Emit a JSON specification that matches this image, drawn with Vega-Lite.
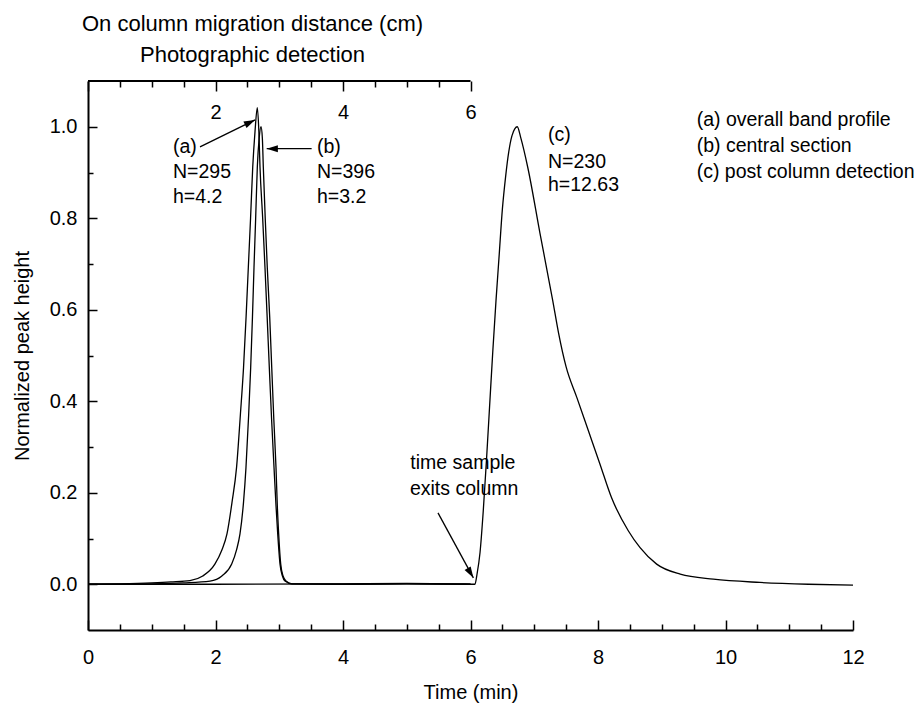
{
  "$schema": "https://vega.github.io/schema/vega-lite/v6.json",
  "width": 765,
  "height": 549,
  "autosize": "none",
  "padding": {"left": 88, "top": 81, "right": 63, "bottom": 74},
  "background": "white",
  "config": {
    "font": "Liberation Sans",
    "view": {"stroke": null},
    "axis": {
      "domainColor": "black", "tickColor": "black", "labelColor": "black", "titleColor": "black",
      "labelFont": "Liberation Sans", "titleFont": "Liberation Sans", "titleFontWeight": "normal",
      "grid": false, "labelFontSize": 20, "titleFontSize": 20, "domainWidth": 2, "tickWidth": 1.5,
      "labelOverlap": false, "labelFlush": false, "labelBound": false
    }
  },
  "datasets": {
    "curves": [
      {"curve": "a", "time": 0, "value": 0}, {"curve": "a", "time": 0.5, "value": 0.001}, {"curve": "a", "time": 1.0, "value": 0.003},
      {"curve": "a", "time": 1.3, "value": 0.005}, {"curve": "a", "time": 1.6, "value": 0.008}, {"curve": "a", "time": 1.8, "value": 0.018},
      {"curve": "a", "time": 1.99, "value": 0.044}, {"curve": "a", "time": 2.1, "value": 0.075}, {"curve": "a", "time": 2.18, "value": 0.11},
      {"curve": "a", "time": 2.26, "value": 0.18}, {"curve": "a", "time": 2.33, "value": 0.255}, {"curve": "a", "time": 2.39, "value": 0.37},
      {"curve": "a", "time": 2.44, "value": 0.474}, {"curve": "a", "time": 2.48, "value": 0.585}, {"curve": "a", "time": 2.515, "value": 0.693},
      {"curve": "a", "time": 2.55, "value": 0.8}, {"curve": "a", "time": 2.584, "value": 0.912}, {"curve": "a", "time": 2.62, "value": 0.99},
      {"curve": "a", "time": 2.656, "value": 1.042}, {"curve": "a", "time": 2.68, "value": 0.99}, {"curve": "a", "time": 2.698, "value": 0.912},
      {"curve": "a", "time": 2.74, "value": 0.8}, {"curve": "a", "time": 2.776, "value": 0.693}, {"curve": "a", "time": 2.81, "value": 0.585},
      {"curve": "a", "time": 2.844, "value": 0.474}, {"curve": "a", "time": 2.88, "value": 0.36}, {"curve": "a", "time": 2.918, "value": 0.255},
      {"curve": "a", "time": 2.95, "value": 0.17}, {"curve": "a", "time": 2.976, "value": 0.11}, {"curve": "a", "time": 3.012, "value": 0.044},
      {"curve": "a", "time": 3.05, "value": 0.018}, {"curve": "a", "time": 3.09, "value": 0.007}, {"curve": "a", "time": 3.2, "value": 0.001},
      {"curve": "a", "time": 4.0, "value": 0.0}, {"curve": "a", "time": 5.0, "value": 0.001}, {"curve": "a", "time": 6.0, "value": 0.0},

      {"curve": "b", "time": 0, "value": 0}, {"curve": "b", "time": 1.0, "value": 0.001}, {"curve": "b", "time": 1.5, "value": 0.003},
      {"curve": "b", "time": 1.914, "value": 0.007}, {"curve": "b", "time": 2.1, "value": 0.018}, {"curve": "b", "time": 2.254, "value": 0.044},
      {"curve": "b", "time": 2.33, "value": 0.075}, {"curve": "b", "time": 2.384, "value": 0.11}, {"curve": "b", "time": 2.44, "value": 0.18},
      {"curve": "b", "time": 2.478, "value": 0.255}, {"curve": "b", "time": 2.52, "value": 0.37}, {"curve": "b", "time": 2.552, "value": 0.474},
      {"curve": "b", "time": 2.58, "value": 0.585}, {"curve": "b", "time": 2.604, "value": 0.693}, {"curve": "b", "time": 2.63, "value": 0.8},
      {"curve": "b", "time": 2.656, "value": 0.912}, {"curve": "b", "time": 2.685, "value": 0.975}, {"curve": "b", "time": 2.714, "value": 1.0},
      {"curve": "b", "time": 2.735, "value": 0.975}, {"curve": "b", "time": 2.75, "value": 0.912}, {"curve": "b", "time": 2.78, "value": 0.8},
      {"curve": "b", "time": 2.812, "value": 0.693}, {"curve": "b", "time": 2.85, "value": 0.585}, {"curve": "b", "time": 2.882, "value": 0.474},
      {"curve": "b", "time": 2.915, "value": 0.36}, {"curve": "b", "time": 2.949, "value": 0.255}, {"curve": "b", "time": 2.97, "value": 0.17},
      {"curve": "b", "time": 2.991, "value": 0.11}, {"curve": "b", "time": 3.023, "value": 0.044}, {"curve": "b", "time": 3.06, "value": 0.018},
      {"curve": "b", "time": 3.106, "value": 0.007}, {"curve": "b", "time": 3.2, "value": 0.001}, {"curve": "b", "time": 4.0, "value": 0.0},
      {"curve": "b", "time": 5.0, "value": 0.001}, {"curve": "b", "time": 6.0, "value": 0.0},

      {"curve": "c", "time": 0, "value": 0}, {"curve": "c", "time": 2.0, "value": 0.0}, {"curve": "c", "time": 4.0, "value": 0.001},
      {"curve": "c", "time": 5.0, "value": 0.002}, {"curve": "c", "time": 5.8, "value": 0.001}, {"curve": "c", "time": 6.07, "value": 0.0},
      {"curve": "c", "time": 6.1, "value": 0.02}, {"curve": "c", "time": 6.15, "value": 0.07}, {"curve": "c", "time": 6.2, "value": 0.16},
      {"curve": "c", "time": 6.25, "value": 0.27}, {"curve": "c", "time": 6.3, "value": 0.39}, {"curve": "c", "time": 6.35, "value": 0.51},
      {"curve": "c", "time": 6.4, "value": 0.62}, {"curve": "c", "time": 6.45, "value": 0.72}, {"curve": "c", "time": 6.5, "value": 0.82},
      {"curve": "c", "time": 6.55, "value": 0.89}, {"curve": "c", "time": 6.6, "value": 0.945}, {"curve": "c", "time": 6.65, "value": 0.98},
      {"curve": "c", "time": 6.734, "value": 1.0}, {"curve": "c", "time": 6.79, "value": 0.975},
      {"curve": "c", "time": 6.897, "value": 0.912}, {"curve": "c", "time": 7.09, "value": 0.767}, {"curve": "c", "time": 7.29, "value": 0.62},
      {"curve": "c", "time": 7.38, "value": 0.55}, {"curve": "c", "time": 7.5, "value": 0.475}, {"curve": "c", "time": 7.666, "value": 0.409},
      {"curve": "c", "time": 7.848, "value": 0.336}, {"curve": "c", "time": 8.03, "value": 0.263}, {"curve": "c", "time": 8.21, "value": 0.19},
      {"curve": "c", "time": 8.475, "value": 0.117}, {"curve": "c", "time": 8.66, "value": 0.08}, {"curve": "c", "time": 8.92, "value": 0.044},
      {"curve": "c", "time": 9.29, "value": 0.022}, {"curve": "c", "time": 9.81, "value": 0.011}, {"curve": "c", "time": 10.54, "value": 0.004},
      {"curve": "c", "time": 11.3, "value": 0.0}, {"curve": "c", "time": 12.0, "value": -0.002}
    ],
    "notes": [
      {"label": "(a)", "time": 1.333, "value": 0.956, "kind": "left"},
      {"label": "N=295", "time": 1.333, "value": 0.901, "kind": "left"},
      {"label": "h=4.2", "time": 1.333, "value": 0.846, "kind": "left"},
      {"label": "(b)", "time": 3.592, "value": 0.956, "kind": "left"},
      {"label": "N=396", "time": 3.592, "value": 0.901, "kind": "left"},
      {"label": "h=3.2", "time": 3.592, "value": 0.846, "kind": "left"},
      {"label": "(c)", "time": 7.216, "value": 0.982, "kind": "left"},
      {"label": "N=230", "time": 7.216, "value": 0.923, "kind": "left"},
      {"label": "h=12.63", "time": 7.216, "value": 0.872, "kind": "left"},
      {"label": "(a) overall band profile", "time": 9.548, "value": 1.015, "kind": "left"},
      {"label": "(b) central section", "time": 9.548, "value": 0.958, "kind": "left"},
      {"label": "(c) post column detection", "time": 9.548, "value": 0.901, "kind": "left"},
      {"label": "time sample", "time": 5.88, "value": 0.266, "kind": "center"},
      {"label": "exits column", "time": 5.9, "value": 0.209, "kind": "center"}
    ],
    "arrows": [
      {"arrow": "a", "time": 1.757, "value": 0.956, "time2": 2.62, "value2": 1.015},
      {"arrow": "b", "time": 3.508, "value": 0.952, "time2": 2.803, "value2": 0.952},
      {"arrow": "exit", "time": 5.49, "value": 0.156, "time2": 6.045, "value2": 0.014}
    ]
  },
  "layer": [
    {
      "data": {"name": "curves"},
      "mark": {"type": "line", "color": "black", "strokeWidth": 1.3, "interpolate": "monotone"},
      "encoding": {
        "x": {
          "field": "time", "type": "quantitative",
          "scale": {"domain": [0, 12], "nice": false, "zero": false},
          "axis": {
            "orient": "bottom",
            "values": [0, 0.5, 1, 1.5, 2, 2.5, 3, 3.5, 4, 4.5, 5, 5.5, 6, 6.5, 7, 7.5, 8, 8.5, 9, 9.5, 10, 10.5, 11, 11.5, 12],
            "labelExpr": "datum.value % 2 === 0 ? format(datum.value, 'd') : ''",
            "tickSize": {"condition": {"test": "datum.value % 2 === 0", "value": -10}, "value": -6},
            "labelPadding": 27,
            "title": "Time (min)",
            "titleY": 62,
            "titleBaseline": "middle"
          }
        },
        "y": {
          "field": "value", "type": "quantitative",
          "scale": {"domain": [-0.1, 1.1], "nice": false, "zero": false},
          "axis": {
            "orient": "left",
            "values": [0, 0.1, 0.2, 0.3, 0.4, 0.5, 0.6, 0.7, 0.8, 0.9, 1.0],
            "labelExpr": "abs(round(datum.value * 10)) % 2 === 0 ? format(datum.value, '.1f') : ''",
            "tickSize": {"condition": {"test": "abs(round(datum.value * 10)) % 2 === 0", "value": -9}, "value": -5},
            "labelPadding": 20,
            "title": "Normalized peak height",
            "titleX": -66,
            "titleY": 274.5,
            "titleAlign": "center",
            "titleBaseline": "middle"
          }
        },
        "detail": {"field": "curve"}
      }
    },
    {
      "data": {"values": [{"span": "top"}]},
      "mark": {"type": "rule", "color": "black", "strokeWidth": 2},
      "encoding": {
        "x": {
          "datum": 0, "type": "quantitative",
          "axis": {
            "orient": "top",
            "domain": false,
            "values": [0, 0.5, 1, 1.5, 2, 2.5, 3, 3.5, 4, 4.5, 5, 5.5, 6],
            "labelExpr": "datum.value > 0 && datum.value % 2 === 0 ? format(datum.value, 'd') : ''",
            "tickSize": {"condition": {"test": "datum.value % 2 === 0", "value": -10}, "value": -6},
            "labelPadding": -21,
            "labelBaseline": "middle",
            "title": ["On column migration distance (cm)", "Photographic detection"],
            "titleFontSize": 22,
            "titleLineHeight": 31,
            "titleX": 164,
            "titleY": -51,
            "titleAlign": "center",
            "titleBaseline": "alphabetic"
          }
        },
        "x2": {"datum": 6},
        "y": {"datum": 1.1, "type": "quantitative", "axis": null}
      }
    },
    {
      "data": {"name": "notes"},
      "transform": [{"filter": "datum.kind === 'left'"}],
      "mark": {"type": "text", "fontSize": 19.5, "font": "Liberation Sans", "color": "black", "baseline": "middle", "align": "left"},
      "encoding": {
        "x": {"field": "time", "type": "quantitative", "axis": null},
        "y": {"field": "value", "type": "quantitative", "axis": null},
        "text": {"field": "label"}
      }
    },
    {
      "data": {"name": "notes"},
      "transform": [{"filter": "datum.kind === 'center'"}],
      "mark": {"type": "text", "fontSize": 19.5, "font": "Liberation Sans", "color": "black", "baseline": "middle", "align": "center"},
      "encoding": {
        "x": {"field": "time", "type": "quantitative", "axis": null},
        "y": {"field": "value", "type": "quantitative", "axis": null},
        "text": {"field": "label"}
      }
    },
    {
      "data": {"name": "arrows"},
      "mark": {"type": "rule", "color": "black", "strokeWidth": 1.3},
      "encoding": {
        "x": {"field": "time", "type": "quantitative", "axis": null},
        "y": {"field": "value", "type": "quantitative", "axis": null},
        "x2": {"field": "time2"},
        "y2": {"field": "value2"}
      }
    },
    {
      "data": {"name": "arrows"},
      "transform": [{"filter": "datum.arrow === 'a'"}],
      "mark": {"type": "point", "shape": "M0,0L-0.32,1L0.32,1Z", "size": 500, "filled": true, "color": "black", "opacity": 1, "angle": 64},
      "encoding": {
        "x": {"field": "time2", "type": "quantitative", "axis": null},
        "y": {"field": "value2", "type": "quantitative", "axis": null}
      }
    },
    {
      "data": {"name": "arrows"},
      "transform": [{"filter": "datum.arrow === 'b'"}],
      "mark": {"type": "point", "shape": "M0,0L-0.32,1L0.32,1Z", "size": 500, "filled": true, "color": "black", "opacity": 1, "angle": 270},
      "encoding": {
        "x": {"field": "time2", "type": "quantitative", "axis": null},
        "y": {"field": "value2", "type": "quantitative", "axis": null}
      }
    },
    {
      "data": {"name": "arrows"},
      "transform": [{"filter": "datum.arrow === 'exit'"}],
      "mark": {"type": "point", "shape": "M0,0L-0.32,1L0.32,1Z", "size": 500, "filled": true, "color": "black", "opacity": 1, "angle": 149},
      "encoding": {
        "x": {"field": "time2", "type": "quantitative", "axis": null},
        "y": {"field": "value2", "type": "quantitative", "axis": null}
      }
    }
  ],
  "resolve": {"axis": {"x": "independent", "y": "independent"}}
}
